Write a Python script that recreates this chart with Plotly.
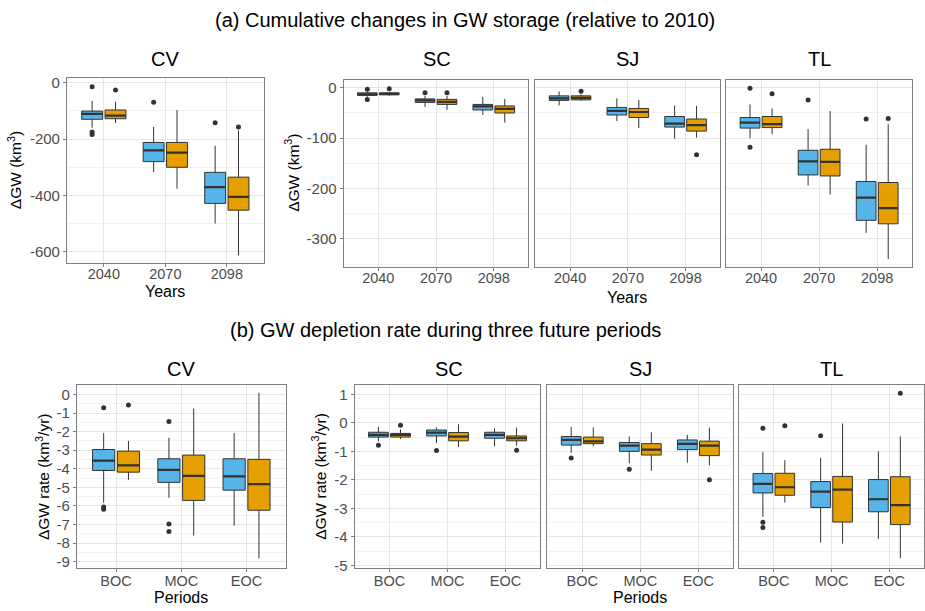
import plotly.graph_objects as go

W, H = 925, 611
BLUE = "#56B4E9"
ORANGE = "#E69F00"
EDGE = "#333333"
BORDER = "#7F7F7F"
GRID = "#E6E6E6"
MINOR = "#F2F2F2"
TICKC = "#4D4D4D"
FONT = "Liberation Sans, Arial, sans-serif"

YEARS = ["2040", "2070", "2098"]
PERIODS = ["BOC", "MOC", "EOC"]

# ---- (a) cumulative change, km3 ; each row: [lower whisker, q1, median, q3, upper whisker]
CUM_CV_BLUE = [[-160, -130, -111, -101, -64], [-317, -280, -240, -212, -157], [-499, -428, -370, -318, -224]]
CUM_CV_BLUE_OUT = [[-15, -175, -184], [-70], [-142]]
CUM_CV_ORANGE = [[-143, -128, -117, -97, -68], [-376, -300, -248, -212, -97], [-612, -452, -405, -335, -169]]
CUM_CV_ORANGE_OUT = [[-26], [], [-157]]

CUM_SC_BLUE = [[-18, -15, -13, -10, -8], [-38, -29, -25, -22, -16], [-54, -44, -37, -33, -18]]
CUM_SC_BLUE_OUT = [[-3, -23], [-10], []]
CUM_SC_ORANGE = [[-16, -14, -12, -10, -8], [-44, -33, -28, -23, -16], [-69, -50, -42, -36, -22]]
CUM_SC_ORANGE_OUT = [[-2], [-10], []]

CUM_SJ_BLUE = [[-35, -25, -21, -16, -7], [-66, -54, -46, -39, -21], [-101, -78, -71, -57, -35]]
CUM_SJ_BLUE_OUT = [[], [], []]
CUM_SJ_ORANGE = [[-26, -24, -20, -16, -13], [-80, -59, -48, -41, -24], [-99, -86, -74, -62, -36]]
CUM_SJ_ORANGE_OUT = [[-7], [], [-133]]

CUM_TL_BLUE = [[-100, -80, -69, -59, -33], [-194, -173, -146, -124, -82], [-288, -263, -218, -186, -113]]
CUM_TL_BLUE_OUT = [[-1, -118], [-24], [-62]]
CUM_TL_ORANGE = [[-92, -79, -72, -57, -41], [-212, -175, -147, -122, -46], [-340, -270, -239, -188, -72]]
CUM_TL_ORANGE_OUT = [[-12], [], [-61]]

# ---- (b) depletion rate, km3/yr
RATE_CV_BLUE = [[-5.82, -4.09, -3.56, -2.96, -2.08], [-5.56, -4.73, -4.06, -3.46, -2.33], [-7.06, -5.15, -4.41, -3.46, -2.08]]
RATE_CV_BLUE_OUT = [[-0.71, -6.05, -6.18], [-1.45, -6.97, -7.38], []]
RATE_CV_ORANGE = [[-4.59, -4.18, -3.81, -3.05, -2.5], [-7.59, -5.7, -4.38, -3.26, -0.76], [-8.82, -6.23, -4.82, -3.49, 0.09]]
RATE_CV_ORANGE_OUT = [[-0.56], [], []]

RATE_SC_BLUE = [[-0.65, -0.5, -0.42, -0.33, -0.14], [-0.71, -0.46, -0.34, -0.25, -0.16], [-0.82, -0.54, -0.42, -0.33, -0.19]]
RATE_SC_BLUE_OUT = [[-0.79], [-0.97], []]
RATE_SC_ORANGE = [[-0.57, -0.5, -0.42, -0.37, -0.23], [-0.85, -0.63, -0.48, -0.34, -0.05], [-0.8, -0.63, -0.54, -0.46, -0.17]]
RATE_SC_ORANGE_OUT = [[-0.08], [], [-0.96]]

RATE_SJ_BLUE = [[-1.05, -0.78, -0.6, -0.48, -0.14], [-1.42, -1.0, -0.8, -0.69, -0.48], [-1.4, -0.94, -0.74, -0.6, -0.42]]
RATE_SJ_BLUE_OUT = [[-1.23], [-1.63], []]
RATE_SJ_ORANGE = [[-0.82, -0.73, -0.65, -0.5, -0.16], [-1.68, -1.13, -0.94, -0.73, -0.33], [-1.49, -1.15, -0.8, -0.64, -0.17]]
RATE_SJ_ORANGE_OUT = [[], [], [-2.0]]

RATE_TL_BLUE = [[-3.3, -2.46, -2.14, -1.78, -1.03], [-4.2, -2.97, -2.41, -2.06, -1.23], [-4.07, -3.12, -2.68, -1.99, -1.0]]
RATE_TL_BLUE_OUT = [[-0.19, -3.49, -3.67], [-0.45], []]
RATE_TL_ORANGE = [[-2.8, -2.54, -2.26, -1.77, -1.31], [-4.24, -3.48, -2.34, -1.88, -0.02], [-4.75, -3.57, -2.89, -1.89, -0.48]]
RATE_TL_ORANGE_OUT = [[-0.1], [], [1.04]]

CUM_CV_TICKS = [0, -200, -400, -600]
CUM_CV_MINOR = [-100, -300, -500]
CUM_TICKS = [0, -100, -200, -300]
CUM_MINOR = [-50, -150, -250, -350]
RATE_CV_TICKS = [0, -1, -2, -3, -4, -5, -6, -7, -8, -9]
RATE_CV_MINOR = [-0.5, -1.5, -2.5, -3.5, -4.5, -5.5, -6.5, -7.5, -8.5]
RATE_TICKS = [1, 0, -1, -2, -3, -4, -5]
RATE_MINOR = [0.5, -0.5, -1.5, -2.5, -3.5, -4.5]

# panel layout: (L, R, T, B) in pixels
panels = [
    dict(box=(67, 264, 75, 263), cats=YEARS, b=CUM_CV_BLUE, bo=CUM_CV_BLUE_OUT, o=CUM_CV_ORANGE, oo=CUM_CV_ORANGE_OUT,
         yr=[-638, 17], yt=CUM_CV_TICKS, ym=CUM_CV_MINOR, ylab=True, so=-5),
    dict(box=(344, 529, 77, 267), cats=YEARS, b=CUM_SC_BLUE, bo=CUM_SC_BLUE_OUT, o=CUM_SC_ORANGE, oo=CUM_SC_ORANGE_OUT,
         yr=[-355, 16], yt=CUM_TICKS, ym=CUM_MINOR, ylab=True, so=-5),
    dict(box=(536, 721, 77, 267), cats=YEARS, b=CUM_SJ_BLUE, bo=CUM_SJ_BLUE_OUT, o=CUM_SJ_ORANGE, oo=CUM_SJ_ORANGE_OUT,
         yr=[-355, 16], yt=CUM_TICKS, ym=CUM_MINOR, ylab=False, so=-5),
    dict(box=(727, 913, 77, 267), cats=YEARS, b=CUM_TL_BLUE, bo=CUM_TL_BLUE_OUT, o=CUM_TL_ORANGE, oo=CUM_TL_ORANGE_OUT,
         yr=[-355, 16], yt=CUM_TICKS, ym=CUM_MINOR, ylab=False, so=-5),
    dict(box=(77, 286, 387, 573), cats=PERIODS, b=RATE_CV_BLUE, bo=RATE_CV_BLUE_OUT, o=RATE_CV_ORANGE, oo=RATE_CV_ORANGE_OUT,
         yr=[-9.32, 0.53], yt=RATE_CV_TICKS, ym=RATE_CV_MINOR, ylab=True, so=-3),
    dict(box=(355, 541, 387, 573), cats=PERIODS, b=RATE_SC_BLUE, bo=RATE_SC_BLUE_OUT, o=RATE_SC_ORANGE, oo=RATE_SC_ORANGE_OUT,
         yr=[-5.08, 1.34], yt=RATE_TICKS, ym=RATE_MINOR, ylab=True, so=-3),
    dict(box=(548, 734, 387, 573), cats=PERIODS, b=RATE_SJ_BLUE, bo=RATE_SJ_BLUE_OUT, o=RATE_SJ_ORANGE, oo=RATE_SJ_ORANGE_OUT,
         yr=[-5.08, 1.34], yt=RATE_TICKS, ym=RATE_MINOR, ylab=False, so=-3),
    dict(box=(740, 925, 387, 573), cats=PERIODS, b=RATE_TL_BLUE, bo=RATE_TL_BLUE_OUT, o=RATE_TL_ORANGE, oo=RATE_TL_ORANGE_OUT,
         yr=[-5.08, 1.34], yt=RATE_TICKS, ym=RATE_MINOR, ylab=False, so=-3),
]

OFFSET = 0.19
BW = 0.34


def fmt(v):
    s = f"{abs(v):g}"
    return ("-" + s) if v < 0 else s


fig = go.Figure()
layout = {}
for k, p in enumerate(panels, start=1):
    xa = "x" if k == 1 else f"x{k}"
    ya = "y" if k == 1 else f"y{k}"
    L, R, T, B = p["box"]
    for stats, outs, color, off in ((p["b"], p["bo"], BLUE, -OFFSET), (p["o"], p["oo"], ORANGE, OFFSET)):
        pos = [i + off for i in range(len(p["cats"]))]
        fig.add_trace(go.Box(
            x=pos, lowerfence=[s[0] for s in stats], q1=[s[1] for s in stats],
            median=[s[2] for s in stats], q3=[s[3] for s in stats], upperfence=[s[4] for s in stats],
            width=BW, fillcolor=color, line=dict(color=EDGE, width=1), whiskerwidth=0,
            boxpoints=False, hoverinfo="skip", xaxis=xa, yaxis=ya, showlegend=False))
        mx, my = [], []
        for xp, s in zip(pos, stats):
            mx += [xp - BW / 2, xp + BW / 2, None]
            my += [s[2], s[2], None]
        fig.add_trace(go.Scatter(x=mx, y=my, mode="lines", line=dict(color=EDGE, width=2.2),
                                 hoverinfo="skip", xaxis=xa, yaxis=ya, showlegend=False))
        ox, oy = [], []
        for xp, ol in zip(pos, outs):
            ox += [xp] * len(ol)
            oy += ol
        fig.add_trace(go.Scatter(x=ox, y=oy, mode="markers", marker=dict(size=5, color=EDGE),
                                 hoverinfo="skip", xaxis=xa, yaxis=ya, showlegend=False))
    layout["xaxis" if k == 1 else f"xaxis{k}"] = dict(
        domain=[L / W, min(R / W, 1.0)], anchor=ya, range=[-0.6, len(p["cats"]) - 0.4],
        tickmode="array", tickvals=list(range(len(p["cats"]))), ticktext=p["cats"],
        showgrid=True, gridcolor=GRID, gridwidth=1, zeroline=False,
        showline=True, mirror=True, linecolor=BORDER, linewidth=1,
        ticks="outside", ticklen=3, tickcolor=BORDER, ticklabelstandoff=p["so"],
        tickfont=dict(size=14.5, color=TICKC, family=FONT), fixedrange=True)
    layout["yaxis" if k == 1 else f"yaxis{k}"] = dict(
        domain=[1 - B / H, 1 - T / H], anchor=xa, range=p["yr"],
        tickmode="array", tickvals=p["yt"], ticktext=[fmt(v) for v in p["yt"]],
        showgrid=True, gridcolor=GRID, gridwidth=1, zeroline=False,
        minor=dict(tickmode="array", tickvals=p["ym"], showgrid=True, gridcolor=MINOR, gridwidth=1, ticks=""),
        showline=True, mirror=True, linecolor=BORDER, linewidth=1,
        ticks="outside" if p["ylab"] else "", ticklen=3, tickcolor=BORDER,
        showticklabels=p["ylab"],
        tickfont=dict(size=15, color=TICKC, family=FONT), fixedrange=True)


def ann(text, x, y, size, angle=0, color="#000000"):
    return dict(text=text, x=x / W, y=1 - y / H, xref="paper", yref="paper", showarrow=False,
                xanchor="center", yanchor="middle", textangle=angle,
                font=dict(size=size, color=color, family=FONT))


annotations = [
    ann("(a) Cumulative changes in GW storage (relative to 2010)", 466, 16, 20),
    ann("(b) GW depletion rate during three future periods", 446, 331, 20),
    ann("CV", 165, 56, 20), ann("SC", 437, 56, 20), ann("SJ", 628, 56, 20), ann("TL", 820, 56, 20),
    ann("CV", 181, 371, 20), ann("SC", 449, 371, 20), ann("SJ", 641, 371, 20), ann("TL", 832, 371, 20),
    ann("Years", 165, 292, 16), ann("Years", 628, 298, 16),
    ann("Periods", 181, 603, 16), ann("Periods", 641, 603, 16),
    ann("ΔGW (km<sup>3</sup>)", 15, 169, 15.5, -90),
    ann("ΔGW (km<sup>3</sup>)", 293, 172, 15.5, -90),
    ann("ΔGW rate (km<sup>3</sup>/yr)", 43, 480, 15.5, -90),
    ann("ΔGW rate (km<sup>3</sup>/yr)", 320, 480, 15.5, -90),
]

fig.update_layout(
    width=W, height=H, margin=dict(l=0, r=0, t=0, b=0),
    paper_bgcolor="white", plot_bgcolor="white", showlegend=False,
    boxmode="overlay", font=dict(family=FONT), annotations=annotations, **layout)

fig.write_html("out.html")
